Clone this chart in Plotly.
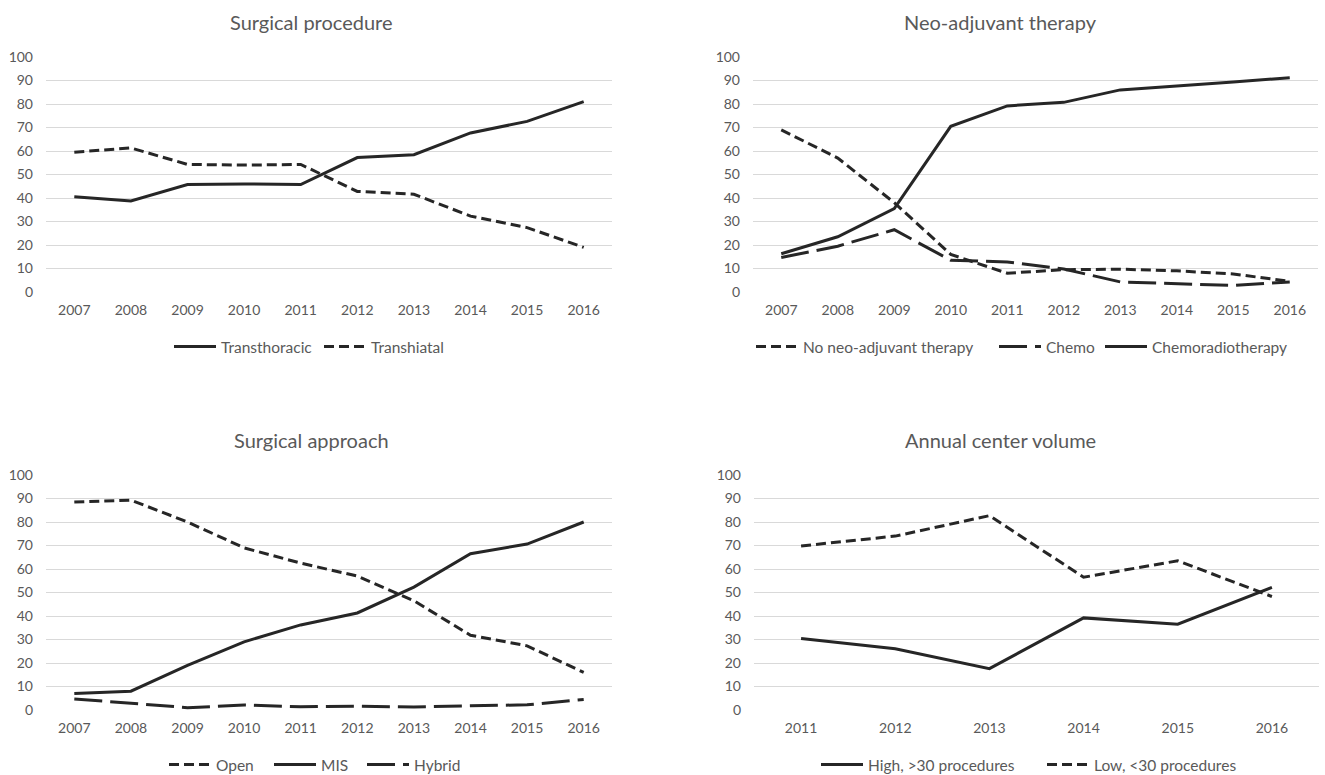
import plotly.graph_objects as go

W, H = 1325, 775

years_a = ["2007", "2008", "2009", "2010", "2011", "2012", "2013", "2014", "2015", "2016"]
years_b = ["2011", "2012", "2013", "2014", "2015", "2016"]

transthoracic = [40.5, 38.7, 45.7, 46.0, 45.7, 57.2, 58.4, 67.7, 72.6, 81.0]
transhiatal = [59.5, 61.3, 54.3, 54.0, 54.3, 42.8, 41.6, 32.3, 27.4, 19.0]

no_neo = [69.0, 57.0, 38.0, 16.0, 8.0, 9.5, 9.7, 9.0, 7.7, 4.5]
chemo = [14.7, 19.5, 26.5, 13.5, 12.8, 9.8, 4.3, 3.4, 2.8, 4.3]
chemorad = [16.3, 23.5, 35.5, 70.5, 79.2, 80.7, 86.0, 87.6, 89.4, 91.2]

open_ = [88.5, 89.3, 80.0, 69.0, 62.5, 57.0, 46.5, 31.8, 27.3, 16.0]
mis = [7.0, 8.0, 19.0, 29.0, 36.2, 41.3, 52.3, 66.5, 70.6, 80.0]
hybrid = [4.7, 2.7, 1.0, 2.1, 1.4, 1.6, 1.3, 1.8, 2.2, 4.5]

high_vol = [30.4, 26.1, 17.6, 39.2, 36.5, 52.2]
low_vol = [69.8, 74.0, 82.7, 56.5, 63.5, 48.3]

titles = ["Surgical procedure", "Neo-adjuvant therapy", "Surgical approach", "Annual center volume"]
yticks = list(range(0, 101, 10))

FONT = "Lato, 'Open Sans', sans-serif"
TXT = "#595959"
LINE = "#262626"
GRID = "#d9d9d9"
SHORT_DASH = "10px,5px"
LONG_DASH = "28px,8px"

def px_x(a, b):
    return [a / W, b / W]

def px_y(top, bottom):
    return [1 - bottom / H, 1 - top / H]

panels = [
    dict(x=px_x(46, 612), y=px_y(57, 292), n=len(years_a)),
    dict(x=px_x(753, 1318), y=px_y(57, 292), n=len(years_a)),
    dict(x=px_x(46, 612), y=px_y(475, 710), n=len(years_a)),
    dict(x=px_x(754, 1319), y=px_y(475, 710), n=len(years_b)),
]

TOP_LEG_Y = 347
BOT_LEG_Y = 765
LEG_OFF = 6

fig = go.Figure()
legends = {}

def add(i, x, y, name, dash, leg_x, leg_y):
    ax = "" if i == 0 else str(i + 1)
    k = len(legends) + 1
    lname = "legend" if k == 1 else "legend%d" % k
    legends[lname] = (leg_x - LEG_OFF, leg_y)
    fig.add_trace(go.Scatter(
        x=x, y=y, name=name, mode="lines",
        line=dict(color=LINE, width=3, dash=dash),
        xaxis="x" + ax, yaxis="y" + ax,
        legend=lname, showlegend=True,
    ))

add(0, years_a, transthoracic, "Transthoracic", "solid", 175, TOP_LEG_Y)
add(0, years_a, transhiatal, "Transhiatal", SHORT_DASH, 325, TOP_LEG_Y)
add(1, years_a, no_neo, "No neo-adjuvant therapy", SHORT_DASH, 757, TOP_LEG_Y)
add(1, years_a, chemo, "Chemo", LONG_DASH, 1000, TOP_LEG_Y)
add(1, years_a, chemorad, "Chemoradiotherapy", "solid", 1106, TOP_LEG_Y)
add(2, years_a, open_, "Open", SHORT_DASH, 170, BOT_LEG_Y)
add(2, years_a, mis, "MIS", "solid", 275, BOT_LEG_Y)
add(2, years_a, hybrid, "Hybrid", LONG_DASH, 368, BOT_LEG_Y)
add(3, years_b, high_vol, "High, >30 procedures", "solid", 822, BOT_LEG_Y)
add(3, years_b, low_vol, "Low, <30 procedures", SHORT_DASH, 1048, BOT_LEG_Y)

layout = dict(
    width=W, height=H,
    margin=dict(l=0, r=0, t=0, b=0, autoexpand=False),
    paper_bgcolor="white", plot_bgcolor="white",
    font=dict(family=FONT, color=TXT, size=14),
    showlegend=True,
    annotations=[],
)

title_pos = [(311, 22), (1000, 22), (311, 440), (1000, 440)]

for i, p in enumerate(panels):
    ax = "" if i == 0 else str(i + 1)
    layout["xaxis" + ax] = dict(
        domain=p["x"], anchor="y" + ax, type="category",
        range=[-0.5, p["n"] - 0.5],
        showgrid=False, zeroline=False, showline=False, ticks="",
        tickfont=dict(size=14, color=TXT, family=FONT),
        ticklabelstandoff=8,
    )
    layout["yaxis" + ax] = dict(
        domain=p["y"], anchor="x" + ax, range=[0, 100],
        tickvals=yticks, showgrid=True, gridcolor=GRID, gridwidth=1,
        zeroline=False, showline=False, ticks="",
        tickfont=dict(size=14, color=TXT, family=FONT),
        ticklabelstandoff=12,
    )
    tx, ty = title_pos[i]
    layout["annotations"].append(dict(
        text=titles[i], x=tx / W, y=1 - ty / H, xref="paper", yref="paper",
        xanchor="center", yanchor="middle", showarrow=False,
        font=dict(size=20, color=TXT, family=FONT),
    ))

for lname, (lx, ly) in legends.items():
    layout[lname] = dict(
        visible=True,
        orientation="h", x=lx / W, y=1 - ly / H,
        xanchor="left", yanchor="middle",
        font=dict(size=15.5, color=TXT, family=FONT),
        bgcolor="rgba(0,0,0,0)", borderwidth=0,
        itemwidth=42,
    )

fig.update_layout(**layout)
fig.write_html(
    "out.html",
    config={"displayModeBar": False},
    post_script="document.body.style.margin='0';",
)
